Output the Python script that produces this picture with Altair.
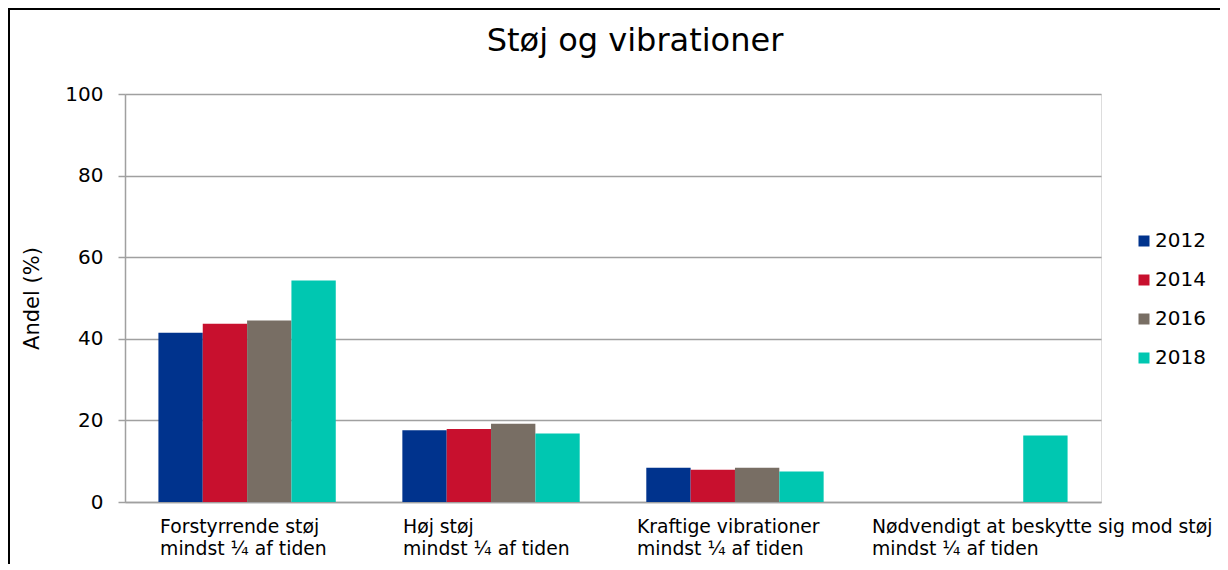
import altair as alt
import pandas as pd

categories = [
    "Forstyrrende støj|mindst ¼ af tiden",
    "Høj støj|mindst ¼ af tiden",
    "Kraftige vibrationer|mindst ¼ af tiden",
    "Nødvendigt at beskytte sig mod støj|mindst ¼ af tiden",
]
years = ["2012", "2014", "2016", "2018"]
colors = ["#00338D", "#C8102E", "#786E64", "#00C7B1"]

v2012 = [41.5, 17.6, 8.4, None]
v2014 = [43.7, 17.9, 7.9, None]
v2016 = [44.5, 19.2, 8.4, None]
v2018 = [54.3, 16.8, 7.5, 16.3]

y_ticks = [0, 20, 40, 60, 80, 100]
label_offsets = [-87, -88, -98, -107]

rows = []
for yr, vals in zip(years, [v2012, v2014, v2016, v2018]):
    for cat, v in zip(categories, vals):
        if v is not None:
            rows.append({"category": cat, "year": yr, "value": v})
df = pd.DataFrame(rows)

FONT = "DejaVu Sans"

offset_cond = {
    "condition": [
        {"test": f"datum.value === '{c}'", "value": o}
        for c, o in zip(categories[:-1], label_offsets[:-1])
    ],
    "value": label_offsets[-1],
}

bars = alt.Chart(df).mark_bar().encode(
    x=alt.X(
        "category:N",
        sort=categories,
        scale=alt.Scale(domain=categories, paddingInner=0.273, paddingOuter=0.137),
        axis=alt.Axis(
            title=None,
            labelExpr="split(datum.label, '|')",
            labelAngle=0,
            labelAlign="left",
            labelOffset=offset_cond,
            labelBaseline="top",
            labelPadding=15,
            labelLineHeight=22,
            labelFont=FONT,
            labelFontSize=18.8,
            labelColor="#000000",
            labelLimit=500,
            labelOverlap=False,
            ticks=False,
            domain=True,
            domainColor="#A0A0A0",
            domainWidth=1.5,
            grid=False,
        ),
    ),
    xOffset=alt.XOffset(
        "year:N", sort=years, scale=alt.Scale(domain=years, paddingInner=0, paddingOuter=0)
    ),
    y=alt.Y(
        "value:Q",
        scale=alt.Scale(domain=[0, 100], nice=False),
        axis=alt.Axis(
            title="Andel (%)",
            titleFont=FONT,
            titleFontSize=21,
            titleFontWeight="normal",
            titleColor="#000000",
            titleX=-93,
            titleY=204,
            titleAngle=270,
            titleAlign="center",
            titleBaseline="middle",
            values=y_ticks,
            labelFont=FONT,
            labelFontSize=20,
            labelColor="#000000",
            labelPadding=15,
            tickSize=7,
            tickColor="#A0A0A0",
            tickWidth=1.5,
            domain=True,
            domainColor="#A0A0A0",
            domainWidth=1.5,
            grid=True,
            gridColor="#A0A0A0",
            gridWidth=1.5,
        ),
    ),
    color=alt.Color(
        "year:N",
        scale=alt.Scale(domain=years, range=colors),
        legend=alt.Legend(
            title=None,
            orient="none",
            legendX=1009,
            legendY=137,
            symbolType="square",
            symbolSize=121,
            symbolStrokeWidth=0,
            labelFont=FONT,
            labelFontSize=20,
            labelColor="#000000",
            labelOffset=1,
            rowPadding=19,
        ),
    ),
)

border = alt.Chart(pd.DataFrame({"k": [0]})).mark_rect(
    fill="transparent", stroke="#000000", strokeWidth=2
).encode(
    x=alt.value(-116), x2=alt.value(1300), y=alt.value(-85), y2=alt.value(700)
)

chart = alt.layer(bars, border).properties(
    width=976,
    height=408,
    title=alt.TitleParams(
        "Støj og vibrationer",
        font=FONT,
        fontSize=32,
        fontWeight="normal",
        color="#000000",
        anchor="middle",
        frame="group",
        baseline="alphabetic",
        dx=22,
        offset=-75,
    ),
    autosize=alt.AutoSizeParams(type="none"),
    padding={"left": 117, "top": 86, "right": 119, "bottom": 62},
).configure_view(stroke=None).configure(background="white")

chart.save("out.html", embed_options={"renderer": "svg", "actions": False})
